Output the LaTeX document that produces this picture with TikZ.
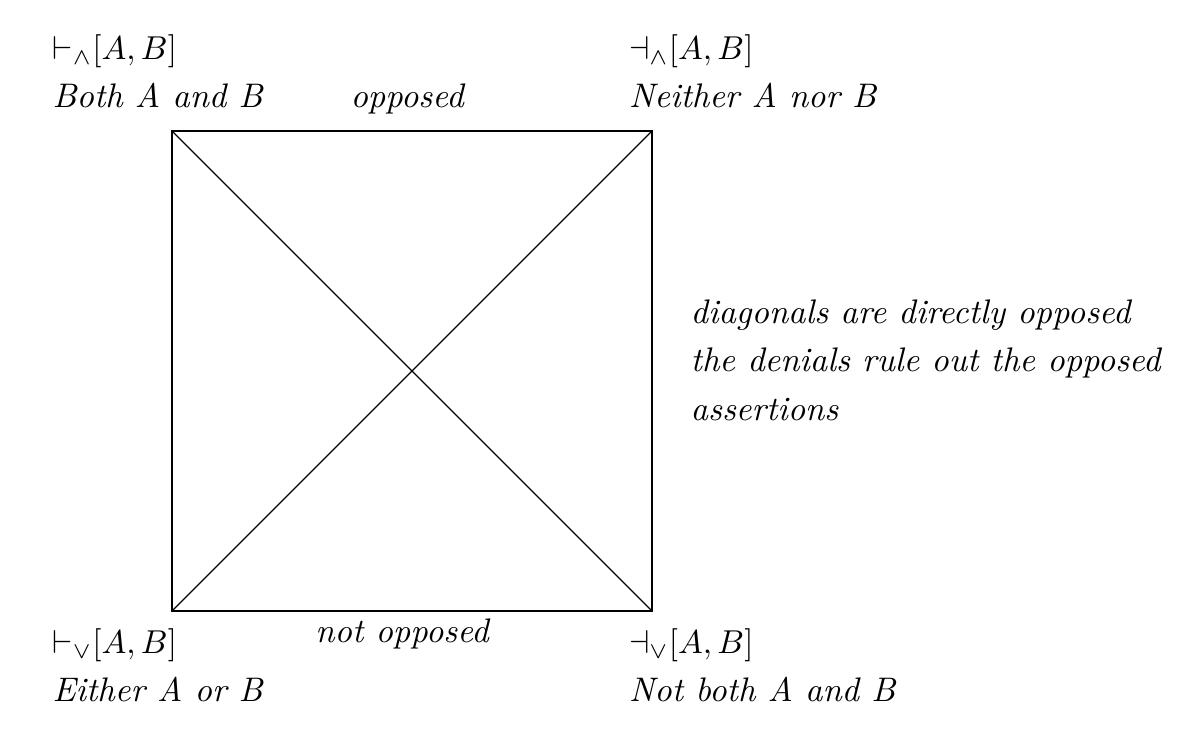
\documentclass[tikz,border=0pt]{standalone}
\begin{document}
\begin{tikzpicture}[font=\fontsize{10.3pt}{12.4pt}\selectfont,
    lbl/.style={anchor=base west,inner sep=0pt,align=left}]
            \useasboundingbox (-1.827,-1.413) rectangle (10.922,6.492);
            \coordinate (BL) at (0,0);
            \coordinate (BR) at (5.1,0);
            \coordinate (TR) at (5.1,5.1);
            \coordinate (TL) at (0,5.1);
            \draw (BL) -- (BR) -- (TR) -- (TL) -- cycle;
            \draw (TL) -- (BR);
            \draw (BL) -- (TR);
            \node[lbl] (both) at (-1.275,5.355) {${\vdash_{\wedge}}[A,B]$\\[2pt] \textit{Both A and B}};
            \node[lbl] (neither) at (4.85,5.355) {${\dashv_{\wedge}}[A,B]$\\[2pt] \textit{Neither A nor B}};
            \node[lbl] (either) at (-1.275,-0.956) {${\vdash_{\vee}}[A,B]$\\[2pt] \textit{Either A or B}};
            \node[lbl] (notboth) at (4.85,-0.956) {${\dashv_{\vee}}[A,B]$\\[2pt] \textit{Not both A and B}};
            \node[anchor=base,inner sep=0pt] (opp) at (2.507,5.355) {\textit{opposed}};
            \node[anchor=base,inner sep=0pt] (notopp) at (2.454,-0.329) {\textit{not opposed}};
            \node[lbl] (diag) at (5.504,2.029) {\textit{diagonals are directly opposed}\\[2.2pt] \textit{the denials rule out the opposed}\\[2.2pt] \textit{assertions}};
        \end{tikzpicture}
\end{document}
